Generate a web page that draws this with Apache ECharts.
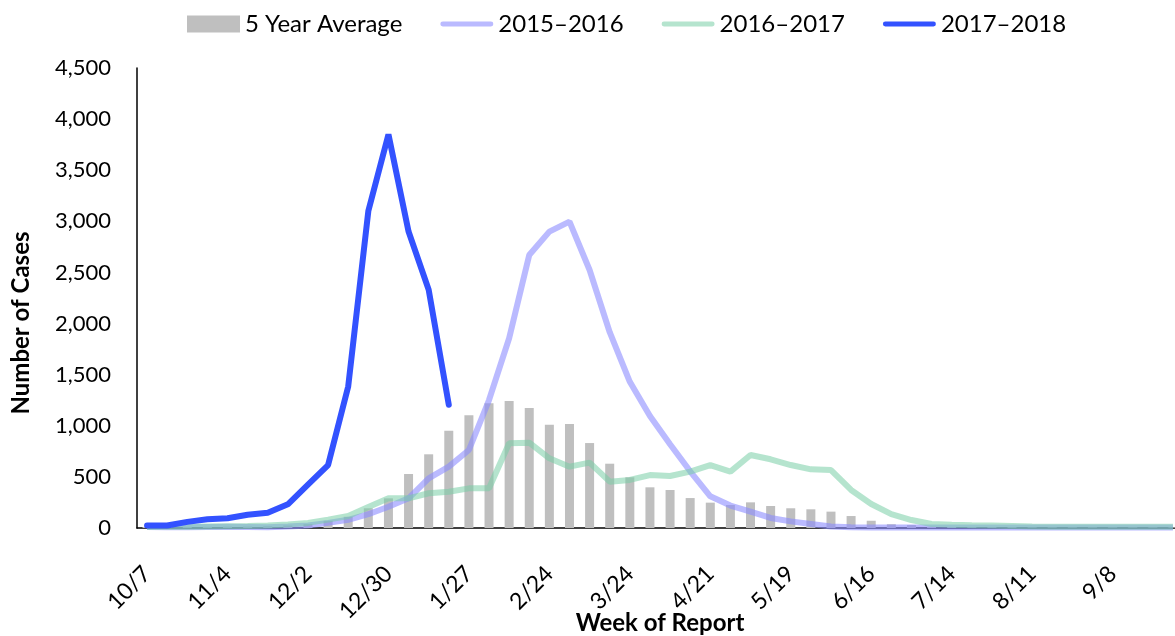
<!DOCTYPE html>
<html>
<head>
<meta charset="utf-8">
<script src="https://cdn.jsdelivr.net/npm/echarts@6/dist/echarts.min.js"></script>
<style>
  html, body { margin: 0; padding: 0; background: #fff; }
  #chart { width: 1175px; height: 636px; }
</style>
</head>
<body>
<div id="chart"></div>
<script>
// week labels (week of report)
var weeks = ["10/7", "10/14", "10/21", "10/28", "11/4", "11/11", "11/18", "11/25",
  "12/2", "12/9", "12/16", "12/23", "12/30", "1/6", "1/13", "1/20", "1/27", "2/3",
  "2/10", "2/17", "2/24", "3/3", "3/10", "3/17", "3/24", "3/31", "4/7", "4/14",
  "4/21", "4/28", "5/5", "5/12", "5/19", "5/26", "6/2", "6/9", "6/16", "6/23",
  "6/30", "7/7", "7/14", "7/21", "7/28", "8/4", "8/11", "8/18", "8/25", "9/1",
  "9/8", "9/15", "9/22", "9/29"];

var avg5 = [10, 10, 12, 12, 14, 15, 18, 25, 38, 70,
  110, 193, 290, 528, 721, 952, 1102, 1220, 1242, 1174,
  1011, 1017, 831, 629, 496, 398, 372, 293, 248, 225,
  251, 215, 193, 183, 160, 117, 71, 37, 29, 12,
  10, 8, 8, 8, 6, 6, 6, 6, 6, 6, 6, 6];

var s1516 = [10, 8, 8, 10, 12, 10, 8, 15, 25, 50,
  80, 135, 208, 290, 486, 600, 763, 1252, 1856, 2671,
  2899, 2997, 2524, 1915, 1430, 1095, 820, 555, 310, 220,
  160, 98, 65, 40, 15, 8, 6, 5, 5, 5,
  5, 5, 5, 5, 5, 5, 5, 5, 5, 5, 5, 5];

var s1617 = [10, 12, 12, 15, 18, 20, 25, 35, 50, 82,
  117, 205, 290, 290, 340, 355, 388, 388, 830, 835,
  682, 600, 639, 453, 470, 518, 509, 551, 616, 551,
  714, 672, 616, 574, 567, 372, 235, 135, 78, 39,
  32, 28, 25, 20, 15, 12, 12, 12, 12, 12, 12, 12];

var s1718 = [25, 25, 60, 85, 95, 130, 150, 232, 425, 616,
  1385, 3100, 3850, 2900, 2330, 1205];

var yTicks = ["0", "500", "1,000", "1,500", "2,000", "2,500", "3,000", "3,500", "4,000", "4,500"];

var font = "Lato, 'Open Sans', sans-serif";
// legend icon for the line series: thin bar with round ends
var lineIcon = "path://M2.5,0 L52.5,0 A2.5,2.5 0 0 1 52.5,5 L2.5,5 A2.5,2.5 0 0 1 2.5,0 Z";

var myChart = echarts.init(document.getElementById("chart"));
myChart.setOption({
  animation: false,
  textStyle: { fontFamily: font },
  legend: {
    left: 182,
    top: 7,
    itemWidth: 53,
    itemHeight: 17,
    itemGap: 38,
    symbolKeepAspect: true,
    textStyle: { fontSize: 24, color: "#000", fontFamily: font },
    data: [
      { name: "5 Year Average", icon: "rect" },
      { name: "2015–2016", icon: lineIcon },
      { name: "2016–2017", icon: lineIcon },
      { name: "2017–2018", icon: lineIcon }
    ]
  },
  grid: { left: 137, right: -8, top: 68, bottom: 108, outerBoundsMode: "none" },
  xAxis: {
    type: "category",
    data: weeks,
    name: "Week of Report",
    nameLocation: "middle",
    nameGap: 83,
    nameMoveOverlap: false,
    nameTextStyle: { fontSize: 24, fontWeight: "bold", color: "#000", fontFamily: font },
    axisLine: { lineStyle: { color: "#000", width: 1.5 } },
    axisTick: { show: false },
    axisLabel: {
      interval: 3,
      rotate: 45,
      margin: 42,
      fontSize: 23,
      color: "#000",
      fontFamily: font
    }
  },
  yAxis: {
    type: "value",
    min: 0,
    max: 4500,
    interval: 500,
    name: "Number of Cases",
    nameLocation: "middle",
    nameGap: 104,
    nameMoveOverlap: false,
    nameTextStyle: { fontSize: 24, fontWeight: "bold", color: "#000", fontFamily: font, padding: [0, 50, 0, 0] },
    axisLine: { show: true, lineStyle: { color: "#000", width: 1.5 } },
    axisTick: { show: false },
    splitLine: { show: false },
    axisLabel: {
      margin: 26,
      fontSize: 22,
      color: "#000",
      fontFamily: font,
      formatter: function (v) { return yTicks[Math.round(v / 500)]; }
    }
  },
  series: [
    {
      name: "5 Year Average",
      type: "bar",
      data: avg5,
      barWidth: 9,
      itemStyle: { color: "#bfbfbf" }
    },
    {
      name: "2015–2016",
      type: "line",
      data: s1516,
      symbol: "none",
      lineStyle: { color: "rgba(140,140,255,0.6)", width: 6 },
      itemStyle: { color: "rgba(140,140,255,0.6)" }
    },
    {
      name: "2016–2017",
      type: "line",
      data: s1617,
      symbol: "none",
      lineStyle: { color: "rgba(120,205,165,0.55)", width: 6 },
      itemStyle: { color: "rgba(120,205,165,0.55)" }
    },
    {
      name: "2017–2018",
      type: "line",
      data: s1718,
      symbol: "none",
      lineStyle: { color: "#3352ff", width: 6, cap: "round" },
      itemStyle: { color: "#3352ff" }
    }
  ]
});
</script>
</body>
</html>
